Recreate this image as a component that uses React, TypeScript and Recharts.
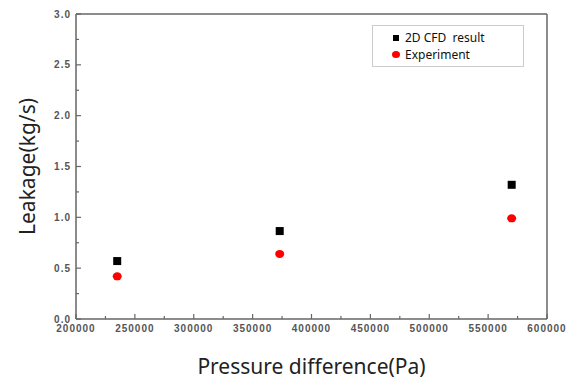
import {
  ScatterChart, Scatter, XAxis, YAxis, ReferenceLine,
} from 'recharts'

// pressure difference (Pa)
const pressure = [235000, 373000, 570000]
// leakage (kg/s)
const cfdLeakage = [0.57, 0.865, 1.32]
const expLeakage = [0.42, 0.64, 0.99]

const xTicks = [200000, 225000, 250000, 275000, 300000, 325000, 350000, 375000, 400000,
  425000, 450000, 475000, 500000, 525000, 550000, 575000, 600000]
const yTicks = [0, 0.25, 0.5, 0.75, 1.0, 1.25, 1.5, 1.75, 2.0, 2.25, 2.5, 2.75, 3.0]

const cfdData = pressure.map((p, i) => ({ x: p, y: cfdLeakage[i] }))
const expData = pressure.map((p, i) => ({ x: p, y: expLeakage[i] }))

const AXIS = '#666'
const TICK_FONT = { fontFamily: 'Arial, "Liberation Sans", sans-serif', fontSize: 10, fontWeight: 700, fill: '#555', letterSpacing: 1 }
const TITLE_FONT = { fontSize: 21, fill: '#222', fontFamily: '"Noto Sans", sans-serif' }

function XTick(props: any) {
  const { x, y, payload } = props
  const major = payload.value % 50000 === 0
  return (
    <g>
      <line x1={x} x2={x} y1={y} y2={y - (major ? 5 : 3)} stroke={AXIS} strokeWidth={1.2} />
      {major && <text x={x} y={y + 13} textAnchor="middle" {...TICK_FONT}>{payload.value}</text>}
    </g>
  )
}

function YTick(props: any) {
  const { x, y, payload } = props
  const major = Math.abs(payload.value * 2 - Math.round(payload.value * 2)) < 1e-6
  return (
    <g>
      <line x1={x} x2={x + (major ? 5 : 3)} y1={y} y2={y} stroke={AXIS} strokeWidth={1.2} />
      {major && <text x={x - 5} y={y + 3.5} textAnchor="end" {...TICK_FONT}>{payload.value.toFixed(1)}</text>}
    </g>
  )
}

const square = (p: any) => <rect x={p.cx - 4} y={p.cy - 4} width={8} height={8} fill="#000" />
const dot = (p: any) => <ellipse cx={p.cx} cy={p.cy} rx={4.5} ry={4} fill="#f00" />

function LegendBox() {
  return (
    <div style={{
      position: 'absolute', left: 372, top: 25,
      width: 152, height: 42, border: '1.5px solid #ccc', boxSizing: 'border-box',
      fontFamily: '"Noto Sans", sans-serif', fontSize: 12, color: '#111', padding: '3px 0 0 20px', lineHeight: '17px',
    }}>
      <div style={{ display: 'flex', alignItems: 'center' }}>
        <span style={{ width: 6, height: 6, background: '#000', display: 'inline-block', marginRight: 6 }} />
        2D CFD&nbsp; result
      </div>
      <div style={{ display: 'flex', alignItems: 'center' }}>
        <span style={{ width: 8, height: 7, borderRadius: '50%', background: '#f00', display: 'inline-block', marginRight: 5, marginLeft: -1 }} />
        Experiment
      </div>
    </div>
  )
}

export default function App() {
  return (
    <div style={{ position: 'absolute', left: 0, top: 0, width: 577, height: 383, background: '#fff' }}>
      <ScatterChart width={577} height={383} margin={{ top: 14, right: 30, bottom: 0, left: 36 }}>
        <XAxis
          type="number" dataKey="x" domain={[200000, 600000]} ticks={xTicks} interval={0}
          height={64} tickSize={0} tickMargin={0} tickLine={false}
          axisLine={{ stroke: AXIS, strokeWidth: 1.5 }} tick={<XTick />}
          label={{ value: 'Pressure difference(Pa)', position: 'insideBottom', offset: 9, ...TITLE_FONT }}
        />
        <YAxis
          type="number" dataKey="y" domain={[0, 3]} ticks={yTicks} interval={0}
          width={40} tickSize={0} tickMargin={0} tickLine={false}
          axisLine={{ stroke: AXIS, strokeWidth: 1.5 }} tick={<YTick />}
          label={{ value: 'Leakage(kg/s)', angle: -90, position: 'insideLeft', offset: -8, ...TITLE_FONT, style: { textAnchor: 'middle' } }}
        />
        <ReferenceLine y={3} stroke={AXIS} strokeWidth={1.5} />
        <ReferenceLine x={600000} stroke={AXIS} strokeWidth={1.5} />
        <Scatter name="2D CFD result" data={cfdData} shape={square} isAnimationActive={false} />
        <Scatter name="Experiment" data={expData} shape={dot} isAnimationActive={false} />
      </ScatterChart>
      <LegendBox />
    </div>
  )
}
